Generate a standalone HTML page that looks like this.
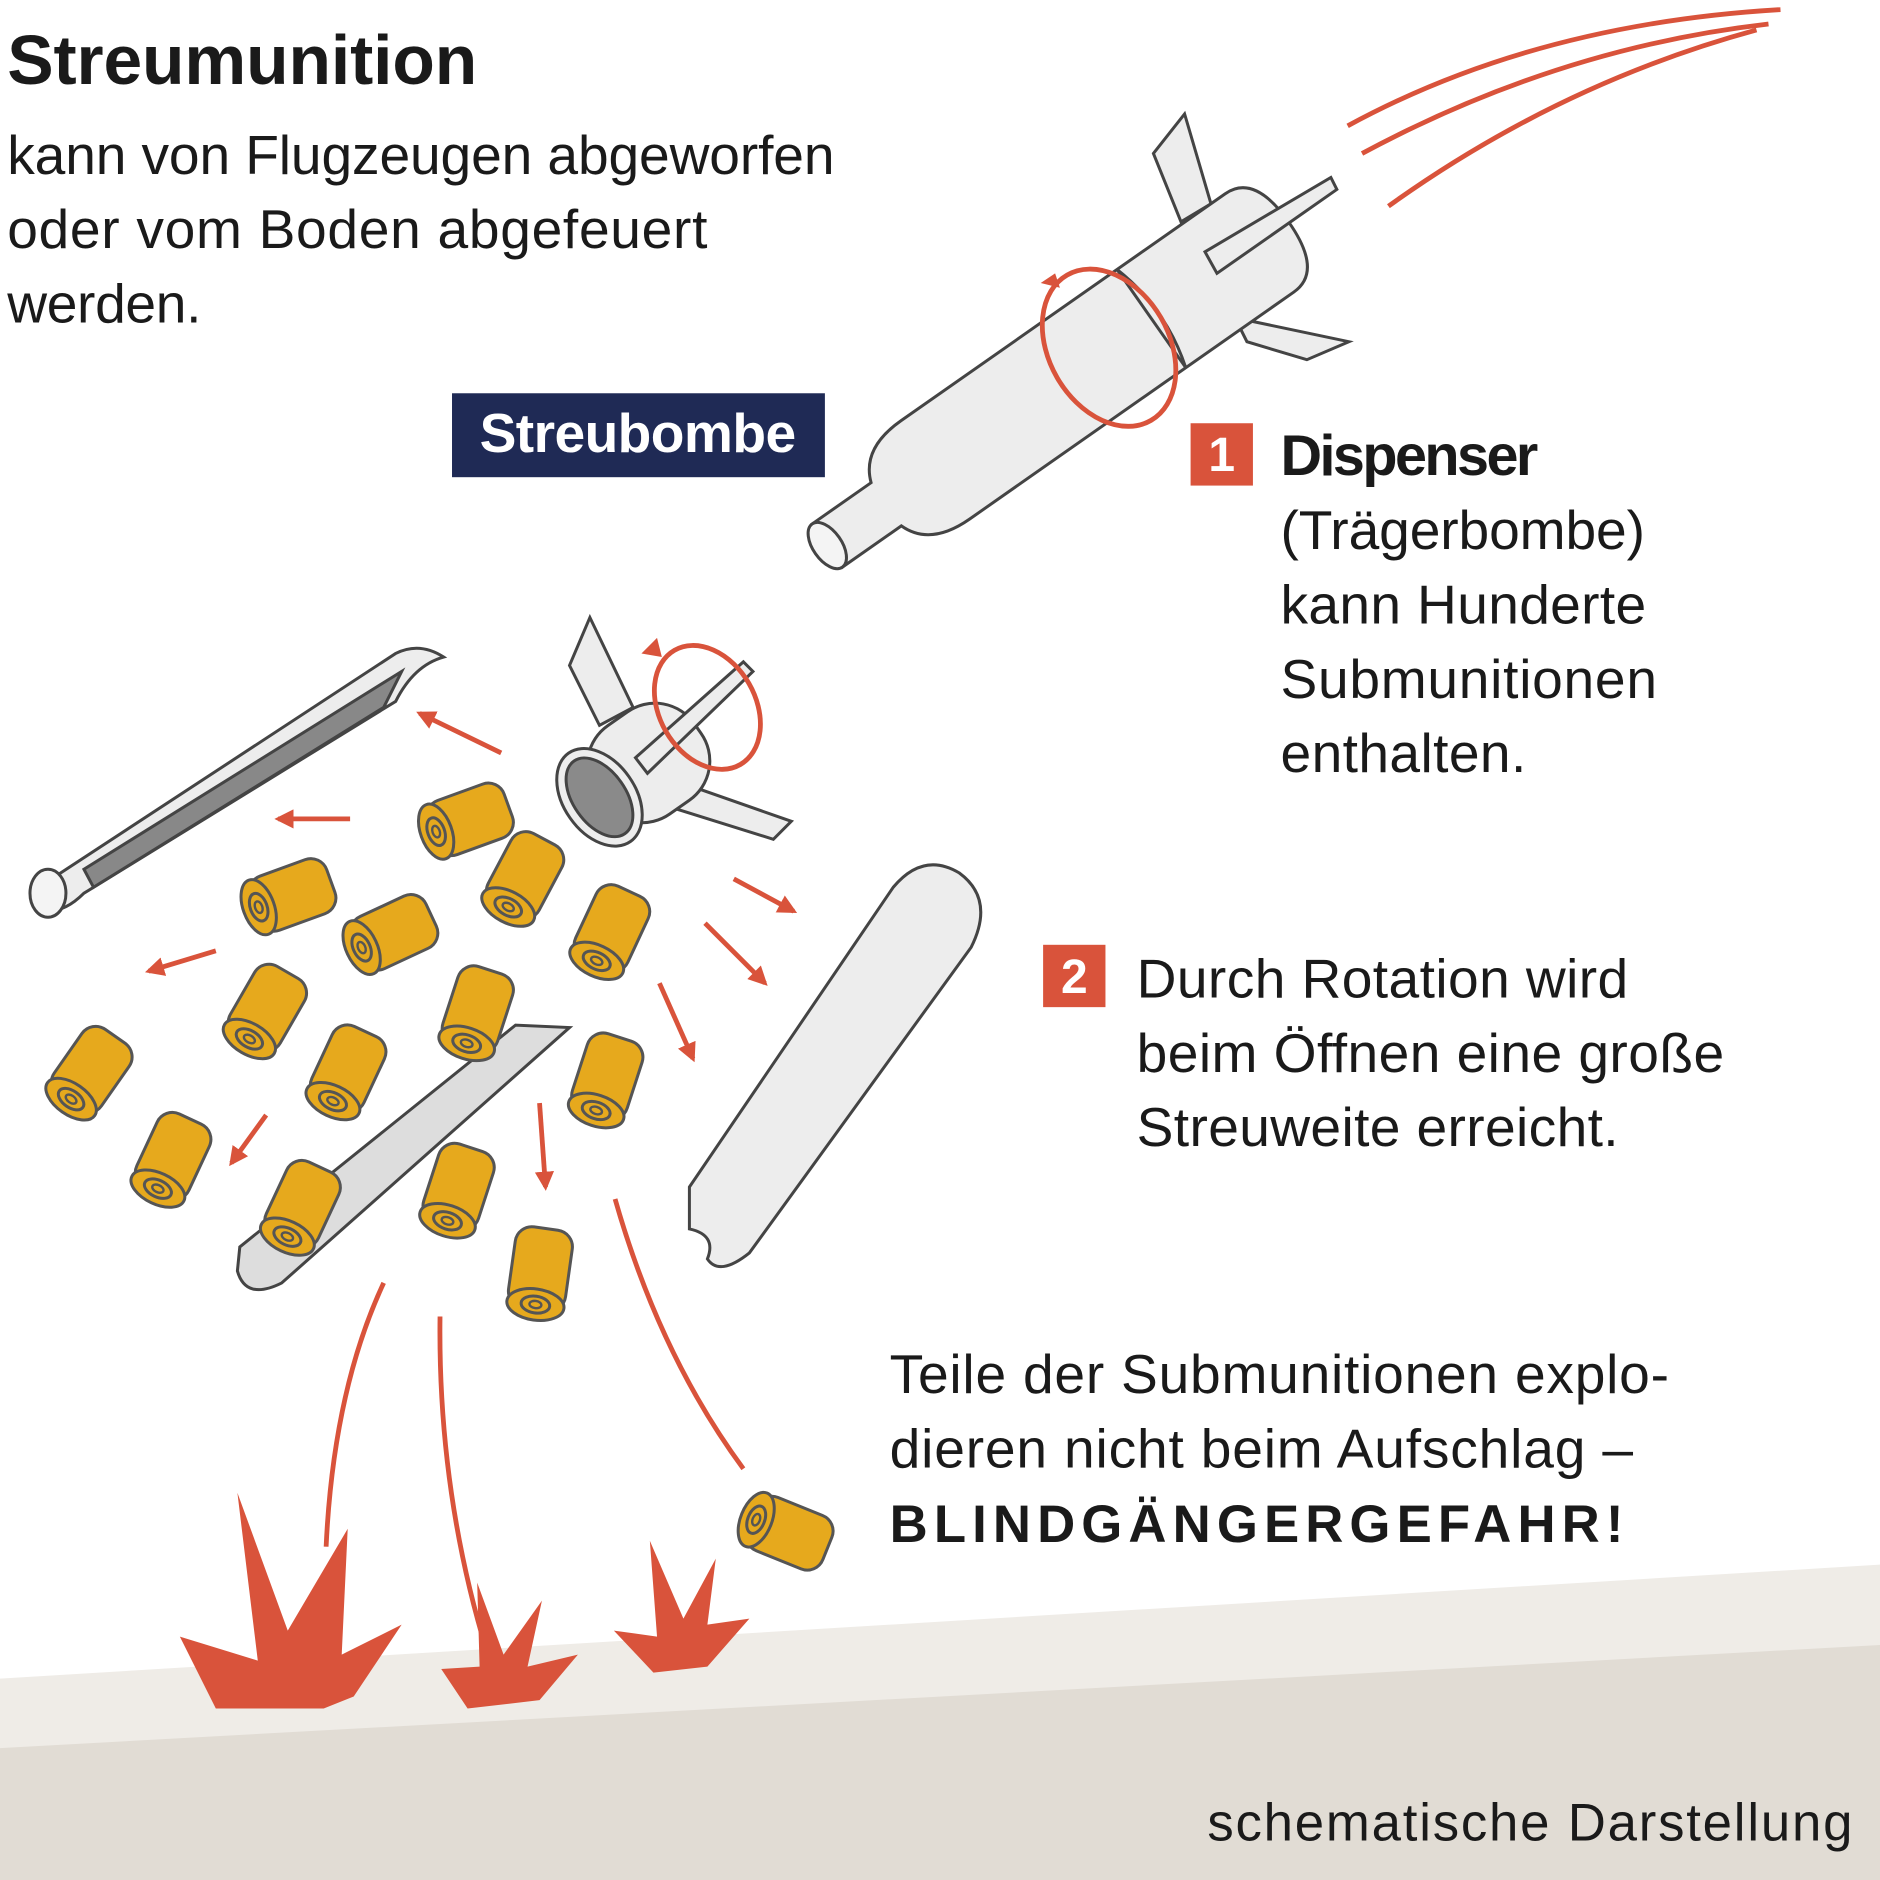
<!DOCTYPE html>
<html><head><meta charset="utf-8"><style>
html,body{margin:0;padding:0;background:#fff}
svg{display:block}
text{font-family:"Liberation Sans Narrow","Liberation Sans",sans-serif}
</style></head><body>
<svg width="1880" height="1880" viewBox="0 0 1568 1568" xmlns="http://www.w3.org/2000/svg">
<defs>
<g id="cyl">
<rect x="0" y="-24" width="68" height="48" rx="14" fill="#e6a91d" stroke="#555" stroke-width="2.5"/>
<ellipse cx="4" cy="0" rx="13" ry="24" fill="#e6a91d" stroke="#555" stroke-width="2.5"/>
<ellipse cx="4" cy="0" rx="7" ry="12" fill="none" stroke="#555" stroke-width="2.5"/>
<ellipse cx="4" cy="0" rx="3" ry="5" fill="none" stroke="#555" stroke-width="2"/>
</g>
<marker id="ah" viewBox="0 0 10 10" refX="8" refY="5" markerWidth="4" markerHeight="4" orient="auto"><path d="M0,0L10,5L0,10z" fill="#d9533b"/></marker>
</defs>
<polygon points="0,1400 1568,1305 1568,1568 0,1568" fill="#efece7"/>
<polygon points="0,1458 1568,1372 1568,1568 0,1568" fill="#e1dcd4"/>

<text x="6" y="70" font-size="58" font-weight="bold" fill="#1a1a1a" textLength="392">Streumunition</text>
<g font-size="46" fill="#1a1a1a">
<text x="6" y="145" textLength="690">kann von Flugzeugen abgeworfen</text>
<text x="6" y="207" textLength="584">oder vom Boden abgefeuert</text>
<text x="6" y="269" textLength="162">werden.</text>
</g>
<rect x="377" y="328" width="311" height="70" fill="#1f2a55"/>
<text x="532" y="377" font-size="46" font-weight="bold" fill="#fff" text-anchor="middle" textLength="264">Streubombe</text>

<g fill="none" stroke="#d9533b" stroke-width="4">
<path d="M1124,105 Q1280,20 1485,8"/>
<path d="M1136,128 Q1300,40 1475,20"/>
<path d="M1158,172 Q1300,70 1465,25"/>
</g>

<g stroke="#444" stroke-width="2.5" fill="#ededed">
<polygon points="962,128 988,95 1010,170 985,185"/>
<polygon points="1030,265 1125,285 1090,300 1040,285"/>
<g transform="translate(690,455) rotate(-35)">
<path d="M0,-22 L60,-22 Q70,-50 110,-50 L440,-50 Q470,-50 470,0 Q470,50 440,50 L110,50 Q70,50 60,22 L0,22 Z"/>
<line x1="330" y1="-50" x2="330" y2="50"/>
<path d="M330,-50 Q345,0 330,50" fill="none"/>
<ellipse cx="0" cy="0" rx="12" ry="22" fill="#f4f4f4"/>
</g>
<polygon points="1005,210 1110,148 1115,158 1015,228"/>
</g>
<ellipse cx="925" cy="290" rx="50" ry="70" fill="none" stroke="#d9533b" stroke-width="4" transform="rotate(-30 925 290)"/>
<path d="M880,228 L868,236 L884,240 Z" fill="#d9533b"/>

<rect x="993" y="353" width="52" height="52" fill="#d9533b"/>
<text x="1019" y="393" font-size="40" font-weight="bold" fill="#fff" text-anchor="middle">1</text>
<text x="1068" y="396" font-size="48" font-weight="bold" fill="#1a1a1a" textLength="215">Dispenser</text>
<g font-size="46" fill="#1a1a1a">
<text x="1068" y="458" textLength="304">(Trägerbombe)</text>
<text x="1068" y="520" textLength="305">kann Hunderte</text>
<text x="1068" y="582" textLength="314">Submunitionen</text>
<text x="1068" y="644" textLength="205">enthalten.</text>
</g>

<rect x="870" y="788" width="52" height="52" fill="#d9533b"/>
<text x="896" y="828" font-size="40" font-weight="bold" fill="#fff" text-anchor="middle">2</text>
<g font-size="46" fill="#1a1a1a">
<text x="948" y="832" textLength="410">Durch Rotation wird</text>
<text x="948" y="894" textLength="490">beim Öffnen eine große</text>
<text x="948" y="956" textLength="402">Streuweite erreicht.</text>
<text x="742" y="1162" textLength="650">Teile der Submunitionen explo-</text>
<text x="742" y="1224" textLength="620">dieren nicht beim Aufschlag –</text>
</g>
<text x="742" y="1286" font-size="44" font-weight="bold" letter-spacing="6" fill="#1a1a1a" textLength="618">BLINDGÄNGERGEFAHR!</text>
<text x="1007" y="1535" font-size="44" fill="#1a1a1a" textLength="538">schematische Darstellung</text>

<g stroke="#444" stroke-width="2.5">
<path d="M40,735 L330,545 Q350,535 370,548 Q345,555 330,585 L70,745 Q55,760 40,760 Z" fill="#ededed"/>
<path d="M70,725 L335,560 Q325,580 320,590 L78,740 Z" fill="#888"/>
<ellipse cx="40" cy="745" rx="15" ry="20" fill="#f4f4f4"/>
<path d="M200,1040 L430,855 L475,857 L235,1070 Q205,1085 198,1060 Z" fill="#ddd"/>
<path d="M575,990 L745,740 Q770,710 800,728 Q830,750 810,790 L625,1045 Q600,1065 590,1050 Q598,1030 575,1025 Z" fill="#ededed"/>
</g>

<g stroke="#444" stroke-width="2.5" fill="#ededed">
<polygon points="475,555 492,515 528,590 500,605"/>
<polygon points="560,650 660,685 645,700 565,675"/>
<g transform="translate(500,665) rotate(-35)">
<rect x="0" y="-45" width="100" height="90" rx="40"/>
<ellipse cx="0" cy="0" rx="30" ry="45"/>
<ellipse cx="0" cy="0" rx="22" ry="37" fill="#8a8a8a"/>
</g>
<polygon points="530,632 620,552 628,560 540,645"/>
</g>
<ellipse cx="590" cy="590" rx="40" ry="55" fill="none" stroke="#d9533b" stroke-width="4" transform="rotate(-30 590 590)"/>
<path d="M548,532 L535,545 L552,548 Z" fill="#d9533b"/>

<g stroke="#d9533b" stroke-width="4" fill="none" marker-end="url(#ah)">
<line x1="418" y1="628" x2="350" y2="595"/>
<line x1="292" y1="683" x2="232" y2="683"/>
<line x1="180" y1="793" x2="124" y2="810"/>
<line x1="612" y1="733" x2="662" y2="760"/>
<line x1="588" y1="770" x2="638" y2="820"/>
<line x1="550" y1="820" x2="578" y2="883"/>
<line x1="222" y1="930" x2="193" y2="970"/>
<line x1="450" y1="920" x2="455" y2="990"/>
</g>
<g stroke="#d9533b" stroke-width="4" fill="none">
<path d="M320,1070 Q278,1160 272,1290"/>
<path d="M367,1098 Q365,1250 410,1390"/>
<path d="M513,1000 Q550,1130 620,1225"/>
</g>

<use href="#cyl" transform="translate(360,695) rotate(-20)"/>
<use href="#cyl" transform="translate(212,758) rotate(-20)"/>
<use href="#cyl" transform="translate(298,792) rotate(-25)"/>
<use href="#cyl" transform="translate(422,760) rotate(-62)"/>
<use href="#cyl" transform="translate(496,805) rotate(-65)"/>
<use href="#cyl" transform="translate(206,870) rotate(-60)"/>
<use href="#cyl" transform="translate(57,920) rotate(-55)"/>
<use href="#cyl" transform="translate(276,922) rotate(-65)"/>
<use href="#cyl" transform="translate(388,874) rotate(-72)"/>
<use href="#cyl" transform="translate(496,930) rotate(-72)"/>
<use href="#cyl" transform="translate(130,995) rotate(-65)"/>
<use href="#cyl" transform="translate(238,1035) rotate(-65)"/>
<use href="#cyl" transform="translate(372,1022) rotate(-72)"/>
<use href="#cyl" transform="translate(446,1092) rotate(-82)"/>
<use href="#cyl" transform="translate(627,1266) rotate(22)"/>

<g fill="#d9533b">
<polygon points="180,1425 150,1365 215,1385 198,1245 240,1360 290,1275 285,1380 335,1355 295,1415 270,1425"/>
<polygon points="390,1425 368,1392 400,1390 398,1320 420,1380 452,1335 440,1390 482,1380 450,1418"/>
<polygon points="545,1395 512,1360 548,1365 542,1285 570,1350 597,1300 590,1355 625,1350 590,1390"/>
</g>
</svg>
</body></html>
